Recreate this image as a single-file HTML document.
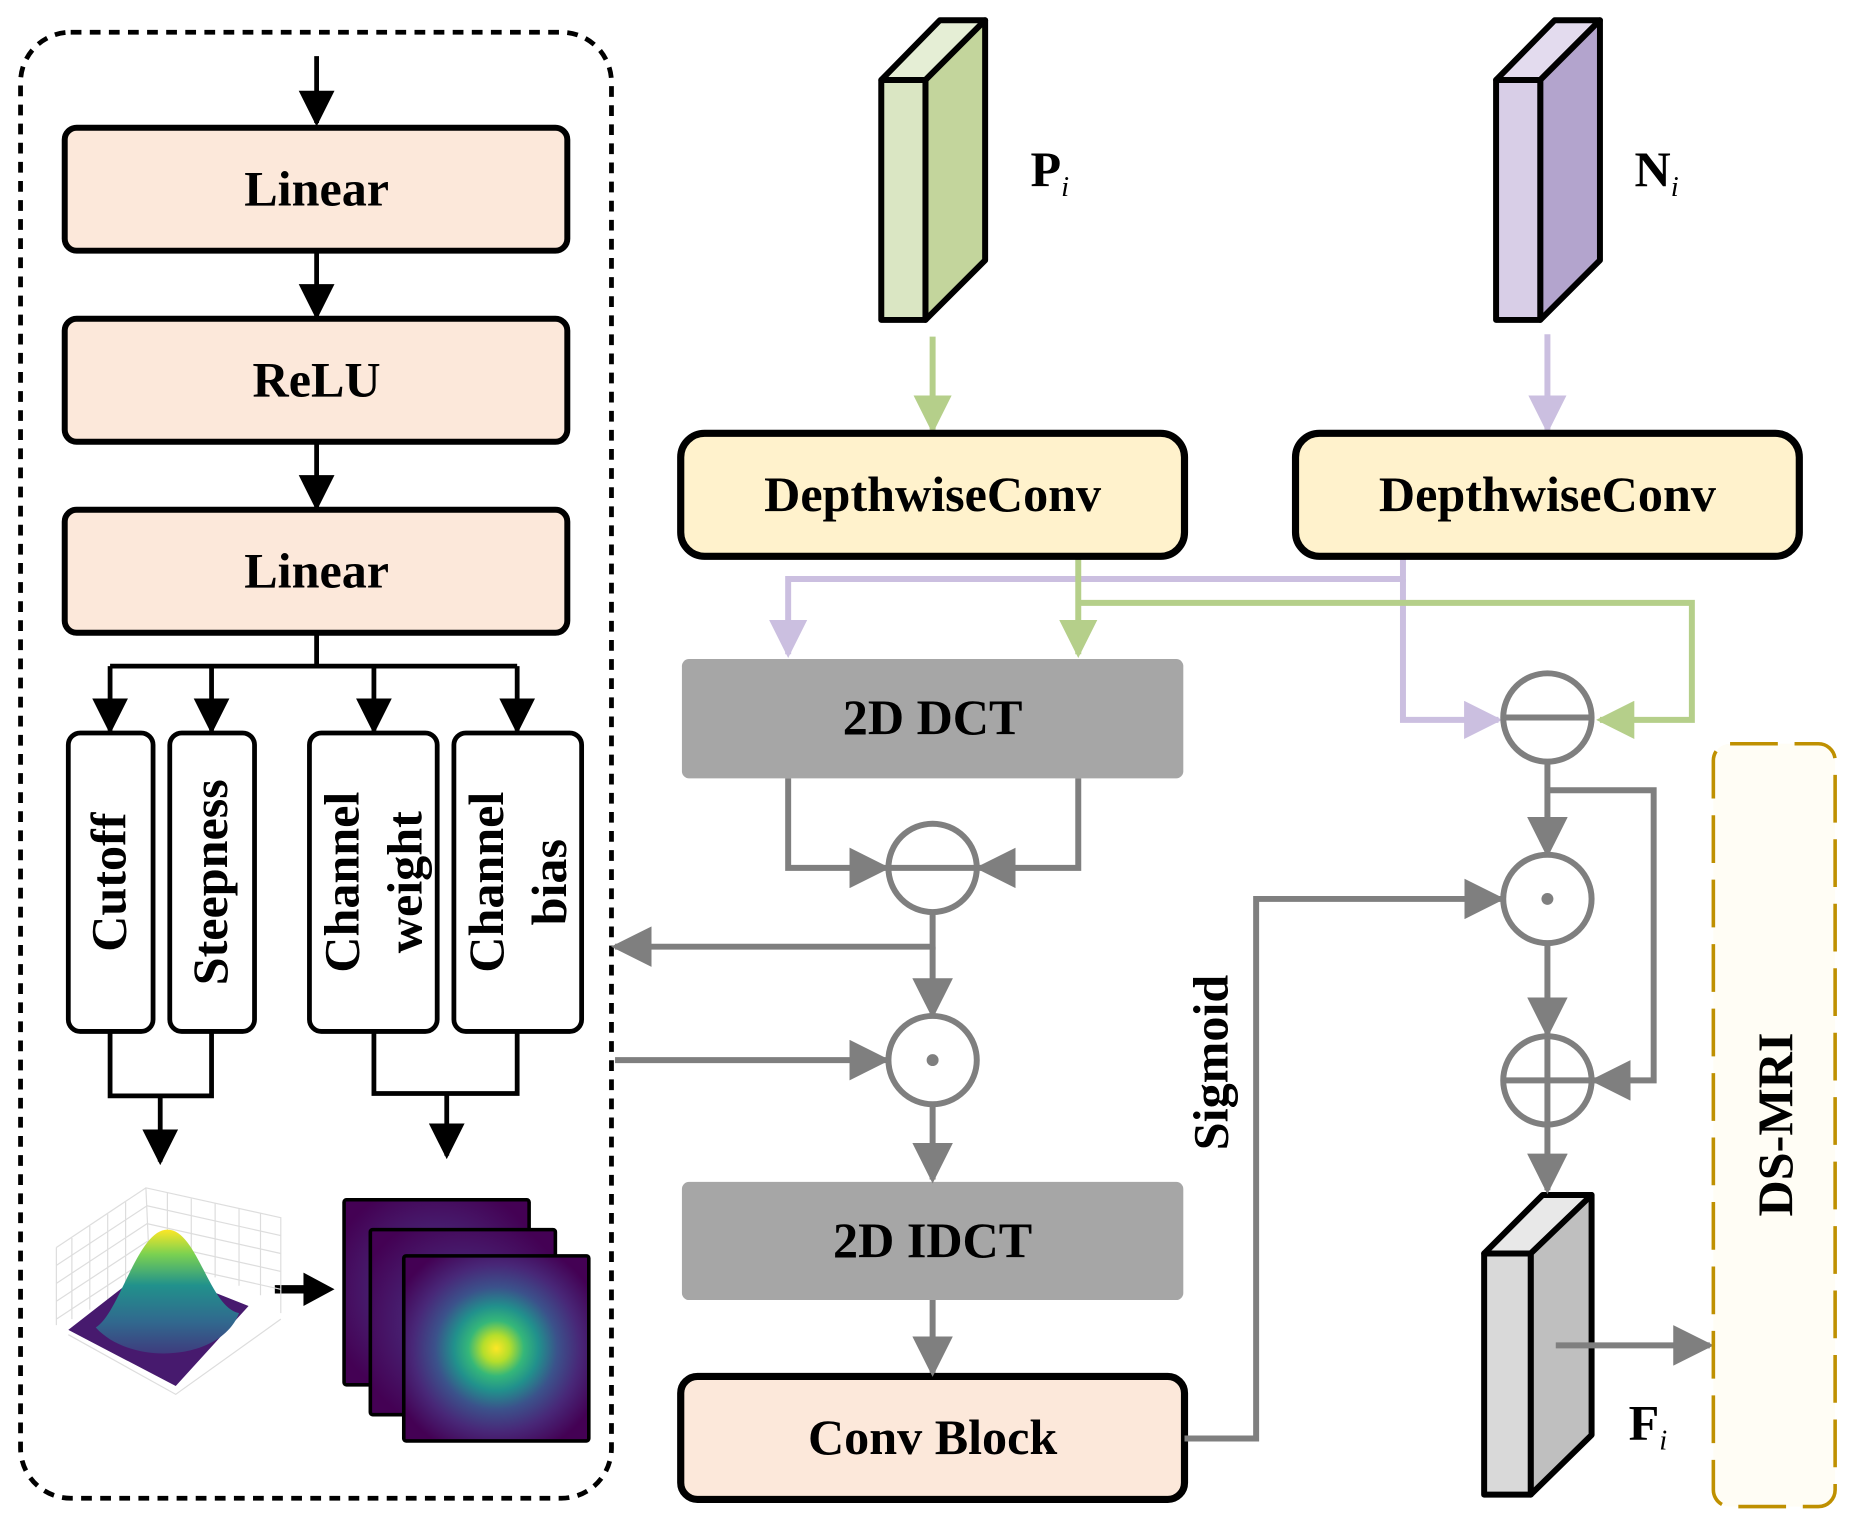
<!DOCTYPE html>
<html><head><meta charset="utf-8"><style>html,body{margin:0;padding:0;background:#fff}svg{display:block}</style></head>
<body>
<svg width="1870" height="1540" viewBox="0 0 1566 1290" xmlns="http://www.w3.org/2000/svg" font-family="'Liberation Serif', serif" font-weight="bold">
<defs>
<marker id="ag" viewBox="0 0 10 10" refX="9" refY="5" markerWidth="34" markerHeight="34" orient="auto" markerUnits="userSpaceOnUse"><path d="M0,0L10,5L0,10z" fill="#7f7f7f"/></marker>
<marker id="agr" viewBox="0 0 10 10" refX="9" refY="5" markerWidth="32" markerHeight="32" orient="auto" markerUnits="userSpaceOnUse"><path d="M0,0L10,5L0,10z" fill="#b5cf8a"/></marker>
<marker id="apu" viewBox="0 0 10 10" refX="9" refY="5" markerWidth="32" markerHeight="32" orient="auto" markerUnits="userSpaceOnUse"><path d="M0,0L10,5L0,10z" fill="#cbbfe0"/></marker>
<marker id="ab" viewBox="0 0 10 10" refX="9" refY="5" markerWidth="30" markerHeight="30" orient="auto" markerUnits="userSpaceOnUse"><path d="M0,0L10,5L0,10z" fill="#000"/></marker>
<radialGradient id="vir" cx="50%" cy="50%" r="60%">
<stop offset="0" stop-color="#fde725"/><stop offset="0.12" stop-color="#b5de2b"/><stop offset="0.25" stop-color="#35b779"/><stop offset="0.38" stop-color="#21918c"/><stop offset="0.55" stop-color="#3b528b"/><stop offset="0.75" stop-color="#482878"/><stop offset="1" stop-color="#440154"/></radialGradient>
<radialGradient id="vir2" cx="50%" cy="50%" r="60%"><stop offset="0" stop-color="#3b528b"/><stop offset="0.4" stop-color="#482878"/><stop offset="1" stop-color="#440154"/></radialGradient>
<linearGradient id="bell" x1="0" y1="0" x2="0" y2="1"><stop offset="0" stop-color="#fde725"/><stop offset="0.2" stop-color="#7ad151"/><stop offset="0.45" stop-color="#21918c"/><stop offset="0.75" stop-color="#31688e"/><stop offset="1" stop-color="#3e3c7e"/></linearGradient>
</defs>

<rect x="17" y="27" width="495" height="1228" rx="42" fill="none" stroke="#000" stroke-width="4" stroke-dasharray="9,7"/>

<g stroke="#000" stroke-width="4" fill="none">
<line x1="265" y1="47" x2="265" y2="103" marker-end="url(#ab)"/>
<line x1="265" y1="210" x2="265" y2="265" marker-end="url(#ab)"/>
<line x1="265" y1="370" x2="265" y2="425" marker-end="url(#ab)"/>
<path d="M265 530V558M92 558H433"/>
<line x1="92" y1="558" x2="92" y2="612" marker-end="url(#ab)"/>
<line x1="177" y1="558" x2="177" y2="612" marker-end="url(#ab)"/>
<line x1="313" y1="558" x2="313" y2="612" marker-end="url(#ab)"/>
<line x1="433" y1="558" x2="433" y2="612" marker-end="url(#ab)"/>
<path d="M92 864V918H177V864M313 864V916H433V864"/>
<line x1="134" y1="918" x2="134" y2="973" marker-end="url(#ab)"/>
<line x1="374" y1="916" x2="374" y2="968" marker-end="url(#ab)"/>
<line x1="230" y1="1080" x2="258" y2="1080" stroke-width="7"/>
</g>
<polygon points="254,1066 280,1080 254,1094" fill="#000"/>

<g stroke="#000" stroke-width="5" fill="#fce8da">
<rect x="54" y="107" width="421" height="103" rx="10"/>
<rect x="54" y="267" width="421" height="103" rx="10"/>
<rect x="54" y="427" width="421" height="103" rx="10"/>
</g>
<g font-size="42" text-anchor="middle">
<text x="265" y="172">Linear</text>
<text x="265" y="332">ReLU</text>
<text x="265" y="492">Linear</text>
</g>
<g stroke="#000" stroke-width="4" fill="#fff">
<rect x="57" y="614" width="71" height="250" rx="10"/>
<rect x="142" y="614" width="71" height="250" rx="10"/>
<rect x="259" y="614" width="107" height="250" rx="10"/>
<rect x="380" y="614" width="107" height="250" rx="10"/>
</g>
<g font-size="42" text-anchor="middle">
<text transform="translate(105,739) rotate(-90)">Cutoff</text>
<text transform="translate(190,739) rotate(-90)">Steepness</text>
<text transform="translate(300,739) rotate(-90)">Channel</text>
<text transform="translate(353,739) rotate(-90)">weight</text>
<text transform="translate(421,739) rotate(-90)">Channel</text>
<text transform="translate(474,739) rotate(-90)">bias</text>
</g>

<!-- 3D plot -->
<g stroke="#ddd" stroke-width="1" fill="none">
<path d="M47 1045L122 995L235 1020L235 1100M122 995L125 1061M47 1045L47 1110"/>
<path d="M60 1037V1105M75 1027V1097M90 1017V1090M105 1007V1080M140 999V1062M160 1004V1066M180 1008V1070M200 1012V1077M218 1016V1085"/>
<path d="M47 1060L123 1010L235 1035M47 1075L123 1025L235 1050M47 1090L123 1040L235 1065M47 1105L123 1055L235 1080"/>
<path d="M57 1118L147 1168L235 1105"/>
</g>
<polygon points="57,1114 125,1061 208,1094 147,1161" fill="#471a6e"/>
<path d="M80 1112C100 1100 115 1030 140 1030C165 1030 175 1095 200 1100C185 1140 110 1145 80 1112Z" fill="url(#bell)"/>

<g stroke="#000" stroke-width="3">
<rect x="288" y="1005" width="155" height="155" rx="2" fill="url(#vir2)"/>
<rect x="310" y="1030" width="155" height="155" rx="2" fill="url(#vir2)"/>
<rect x="338" y="1052" width="155" height="155" rx="2" fill="url(#vir)"/>
</g>

<g stroke="#000" stroke-width="5" stroke-linejoin="round">
<polygon points="738,67 787,17 825,17 775,67" fill="#e5eed5"/>
<polygon points="775,67 825,17 825,218 775,268" fill="#c3d59c"/>
<rect x="738" y="67" width="37" height="201" fill="#dae6c3"/>
<polygon points="1253,67 1302,17 1340,17 1290,67" fill="#e3dbee"/>
<polygon points="1290,67 1340,17 1340,218 1290,268" fill="#b3a4cd"/>
<rect x="1253" y="67" width="37" height="201" fill="#d8cee7"/>
<polygon points="1243,1050 1292,1001 1333,1001 1282,1050" fill="#e8e8e8"/>
<polygon points="1282,1050 1333,1001 1333,1202 1282,1252" fill="#bfbfbf"/>
<rect x="1243" y="1050" width="39" height="202" fill="#d9d9d9"/>
</g>
<text x="863" y="156" font-size="42">P<tspan font-size="24" font-style="italic" font-weight="normal" dy="8">i</tspan></text>
<text x="1369" y="156" font-size="42">N<tspan font-size="24" font-style="italic" font-weight="normal" dy="8">i</tspan></text>
<text x="1364" y="1206" font-size="42">F<tspan font-size="24" font-style="italic" font-weight="normal" dy="8">i</tspan></text>

<g fill="none" stroke-width="5">
<line x1="781" y1="282" x2="781" y2="360" stroke="#b5cf8a" marker-end="url(#agr)"/>
<line x1="1296" y1="280" x2="1296" y2="360" stroke="#cbbfe0" marker-end="url(#apu)"/>
<path d="M1175 466V485H660V548" stroke="#cbbfe0" marker-end="url(#apu)"/>
<path d="M1175 485V603H1255" stroke="#cbbfe0" marker-end="url(#apu)"/>
<path d="M903 466V548" stroke="#b5cf8a" marker-end="url(#agr)"/>
<path d="M903 505H1417V603H1340" stroke="#b5cf8a" marker-end="url(#agr)"/>
</g>

<g stroke="#000" stroke-width="6">
<rect x="570" y="363" width="422" height="103" rx="20" fill="#fff2cc"/>
<rect x="1085" y="363" width="422" height="103" rx="20" fill="#fff2cc"/>
<rect x="570" y="1153" width="422" height="103" rx="14" fill="#fce8da"/>
</g>
<rect x="571" y="552" width="420" height="100" rx="6" fill="#a6a6a6"/>
<rect x="571" y="990" width="420" height="99" rx="6" fill="#a6a6a6"/>
<g font-size="42" text-anchor="middle">
<text x="781" y="428">DepthwiseConv</text>
<text x="1296" y="428">DepthwiseConv</text>
<text x="781" y="615">2D DCT</text>
<text x="781" y="1053">2D IDCT</text>
<text x="781" y="1218">Conv Block</text>
<text transform="translate(1028,890) rotate(-90)">Sigmoid</text>
</g>

<g fill="none" stroke="#7f7f7f" stroke-width="5">
<path d="M660 652V727H742" marker-end="url(#ag)"/>
<path d="M903 652V727H820" marker-end="url(#ag)"/>
<path d="M781 764V793H515" marker-end="url(#ag)"/>
<path d="M781 793V850" marker-end="url(#ag)"/>
<path d="M515 888H742" marker-end="url(#ag)"/>
<path d="M781 925V988" marker-end="url(#ag)"/>
<path d="M781 1089V1150" marker-end="url(#ag)"/>
<path d="M992 1205H1052V753H1257" marker-end="url(#ag)"/>
<path d="M1296 638V715" marker-end="url(#ag)"/>
<path d="M1296 790V866" marker-end="url(#ag)"/>
<path d="M1296 662H1385V905H1335" marker-end="url(#ag)"/>
<path d="M1296 942V997" marker-end="url(#ag)"/>
<path d="M1303 1127H1432" marker-end="url(#ag)"/>
<circle cx="781" cy="727" r="37" fill="#fff"/><line x1="744" y1="727" x2="818" y2="727"/>
<circle cx="781" cy="888" r="37" fill="#fff"/>
<circle cx="1296" cy="601" r="37" fill="#fff"/><line x1="1259" y1="601" x2="1333" y2="601"/>
<circle cx="1296" cy="753" r="37" fill="#fff"/>
<circle cx="1296" cy="905" r="37" fill="#fff"/><line x1="1259" y1="905" x2="1333" y2="905"/><line x1="1296" y1="868" x2="1296" y2="942"/>
</g>
<circle cx="781" cy="888" r="5" fill="#7f7f7f"/>
<circle cx="1296" cy="753" r="5" fill="#7f7f7f"/>

<rect x="1435" y="623" width="102" height="639" rx="14" fill="#fffdf5" stroke="#bf9000" stroke-width="3" stroke-dasharray="40,14"/>
<text transform="translate(1501,942) rotate(-90)" font-size="42" text-anchor="middle">DS-MRI</text>
</svg>
</body></html>
